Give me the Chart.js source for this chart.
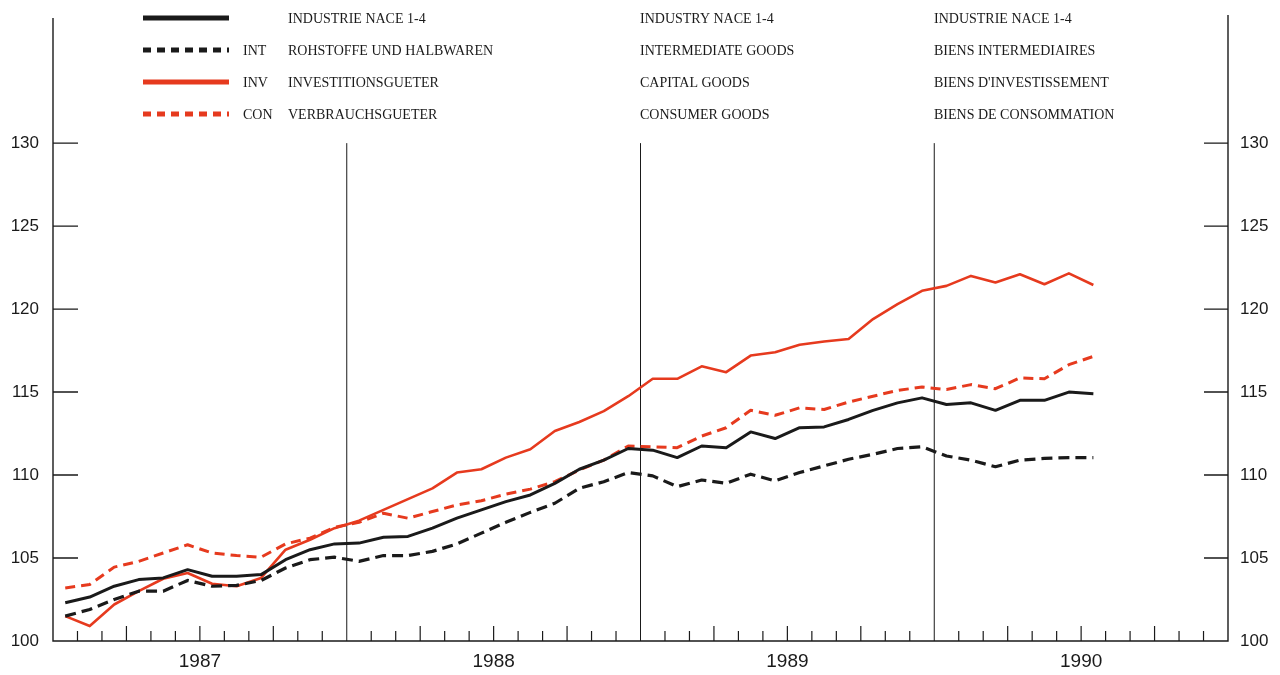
<!DOCTYPE html>
<html>
<head>
<meta charset="utf-8">
<script src="https://cdn.jsdelivr.net/npm/chart.js@4.4.1/dist/chart.umd.min.js"></script>
<style>
    body { margin: 0; background: #fff; }
    .wrap { width: 1280px; height: 675px; position: relative; }
</style>
</head>
<body>
<div class="wrap"><canvas id="prodChart"></canvas></div>
<script>
// monthly index, Jan 1987 .. Jul 1990
const years = ['1987', '1988', '1989', '1990'];
const yTicks = [100, 105, 110, 115, 120, 125, 130];

const industry = [102.3, 102.65, 103.3, 103.7, 103.8, 104.3, 103.9, 103.9, 104.0, 104.9, 105.5, 105.85,
    105.9, 106.25, 106.3, 106.8, 107.4, 107.9, 108.4, 108.8, 109.5, 110.35, 110.9, 111.6,
    111.5, 111.05, 111.75, 111.65, 112.6, 112.2, 112.85, 112.9, 113.35, 113.9, 114.35, 114.65,
    114.25, 114.35, 113.9, 114.5, 114.5, 115.0, 114.9];
const intermediate = [101.5, 101.9, 102.5, 103.0, 103.0, 103.65, 103.3, 103.35, 103.65, 104.4, 104.9, 105.05,
    104.8, 105.15, 105.15, 105.4, 105.85, 106.5, 107.15, 107.75, 108.3, 109.2, 109.6, 110.15,
    109.95, 109.3, 109.7, 109.5, 110.05, 109.65, 110.15, 110.55, 110.95, 111.25, 111.6, 111.7,
    111.15, 110.9, 110.5, 110.9, 111.0, 111.05, 111.05];
const capital = [101.5, 100.9, 102.2, 103.0, 103.75, 104.1, 103.45, 103.3, 103.8, 105.5, 106.1, 106.8,
    107.25, 107.9, 108.55, 109.2, 110.15, 110.35, 111.05, 111.55, 112.65, 113.2, 113.85, 114.75,
    115.8, 115.8, 116.55, 116.2, 117.2, 117.4, 117.85, 118.05, 118.2, 119.4, 120.3, 121.1,
    121.4, 122.0, 121.6, 122.1, 121.5, 122.15, 121.45];
const consumer = [103.2, 103.4, 104.45, 104.8, 105.3, 105.8, 105.3, 105.15, 105.05, 105.85, 106.2, 106.85,
    107.15, 107.7, 107.4, 107.8, 108.2, 108.45, 108.85, 109.15, 109.6, 110.3, 110.9, 111.75,
    111.7, 111.65, 112.35, 112.85, 113.9, 113.6, 114.05, 113.95, 114.4, 114.75, 115.1, 115.3,
    115.15, 115.45, 115.2, 115.85, 115.8, 116.65, 117.15];

const legendCodes = ['', 'INT', 'INV', 'CON'];
const legendDe = ['INDUSTRIE NACE 1-4', 'ROHSTOFFE UND HALBWAREN', 'INVESTITIONSGUETER', 'VERBRAUCHSGUETER'];
const legendEn = ['INDUSTRY NACE 1-4', 'INTERMEDIATE GOODS', 'CAPITAL GOODS', 'CONSUMER GOODS'];
const legendFr = ['INDUSTRIE NACE 1-4', 'BIENS INTERMEDIAIRES', "BIENS D'INVESTISSEMENT", 'BIENS DE CONSOMMATION'];

const RED = '#e63a1e';
const INK = '#1a1a1a';

// points sit in the middle of each month
const toPoints = arr => arr.map((v, i) => ({ x: i + 0.5, y: v }));

const legendStyles = [
    { color: INK, dash: [] },
    { color: INK, dash: [8, 6] },
    { color: RED, dash: [] },
    { color: RED, dash: [8, 6] }
];

const framePlugin = {
    id: 'frame',
    beforeDatasetsDraw(chart) {
        const { ctx, chartArea: a, scales: { x, y } } = chart;
        ctx.save();
        ctx.strokeStyle = INK;
        ctx.lineWidth = 1.4;

        // axes: left, bottom, right (the sides run above 130)
        ctx.beginPath();
        ctx.moveTo(a.left, a.top + 1);
        ctx.lineTo(a.left, a.bottom);
        ctx.lineTo(a.right, a.bottom);
        ctx.lineTo(a.right, a.top - 2);
        ctx.stroke();

        // inward ticks on both y axes
        yTicks.forEach(v => {
            if (v === 100) return;
            const py = y.getPixelForValue(v);
            ctx.beginPath();
            ctx.moveTo(a.left, py); ctx.lineTo(a.left + 25, py);
            ctx.moveTo(a.right, py); ctx.lineTo(a.right - 24, py);
            ctx.stroke();
        });

        // month ticks, longer every quarter
        ctx.lineWidth = 1.2;
        for (let m = 1; m < 48; m++) {
            if (m % 12 === 0) continue;
            const px = x.getPixelForValue(m);
            const len = m % 3 === 0 ? 15 : 10;
            ctx.beginPath();
            ctx.moveTo(px, a.bottom); ctx.lineTo(px, a.bottom - len);
            ctx.stroke();
        }

        // year separators up to 130
        ctx.lineWidth = 1;
        [12, 24, 36].forEach(m => {
            const px = x.getPixelForValue(m);
            ctx.beginPath();
            ctx.moveTo(px, y.getPixelForValue(130));
            ctx.lineTo(px, a.bottom);
            ctx.stroke();
        });

        // tick labels
        ctx.fillStyle = INK;
        ctx.font = '17px "Liberation Sans", Arial, sans-serif';
        ctx.textBaseline = 'middle';
        yTicks.forEach(v => {
            const py = y.getPixelForValue(v);
            ctx.textAlign = 'right';
            ctx.fillText(String(v), a.left - 14, py);
            ctx.textAlign = 'left';
            ctx.fillText(String(v), a.right + 12, py);
        });

        ctx.font = '19px "Liberation Sans", Arial, sans-serif';
        ctx.textAlign = 'center';
        years.forEach((yr, i) => {
            ctx.fillText(yr, x.getPixelForValue(i * 12 + 6), a.bottom + 21);
        });
        ctx.restore();
    },
    afterDraw(chart) {
        const { ctx } = chart;
        ctx.save();
        const rowY = [18, 50, 82, 114];
        legendStyles.forEach((s, i) => {
            ctx.strokeStyle = s.color;
            ctx.lineWidth = 5;
            ctx.setLineDash(s.dash);
            ctx.beginPath();
            ctx.moveTo(143, rowY[i]);
            ctx.lineTo(229, rowY[i]);
            ctx.stroke();
        });
        ctx.setLineDash([]);
        ctx.fillStyle = INK;
        ctx.font = '14px "Liberation Serif", "Times New Roman", serif';
        ctx.textBaseline = 'middle';
        ctx.textAlign = 'left';
        rowY.forEach((ry, i) => {
            ctx.fillText(legendCodes[i], 243, ry + 1);
            ctx.fillText(legendDe[i], 288, ry + 1);
            ctx.fillText(legendEn[i], 640, ry + 1);
            ctx.fillText(legendFr[i], 934, ry + 1);
        });
        ctx.restore();
    }
};

new Chart(document.getElementById('prodChart'), {
    type: 'line',
    data: {
        datasets: [{
            label: 'INDUSTRIE NACE 1-4',
            data: toPoints(industry),
            borderColor: INK,
            borderWidth: 3
        }, {
            label: 'INT',
            data: toPoints(intermediate),
            borderColor: INK,
            borderWidth: 3.2,
            borderDash: [11, 6]
        }, {
            label: 'INV',
            data: toPoints(capital),
            borderColor: RED,
            borderWidth: 2.6
        }, {
            label: 'CON',
            data: toPoints(consumer),
            borderColor: RED,
            borderWidth: 3,
            borderDash: [10, 6]
        }]
    },
    options: {
        responsive: true,
        maintainAspectRatio: false,
        animation: false,
        layout: {
            padding: { left: 53, right: 52, top: 17, bottom: 34 }
        },
        elements: {
            point: { radius: 0 },
            line: { tension: 0, borderJoinStyle: 'round', fill: false }
        },
        plugins: {
            legend: { display: false },
            tooltip: { enabled: false }
        },
        scales: {
            x: { type: 'linear', min: 0, max: 48, display: false },
            y: { min: 100, max: 137.6, display: false }
        }
    },
    plugins: [framePlugin]
});
</script>
</body>
</html>
